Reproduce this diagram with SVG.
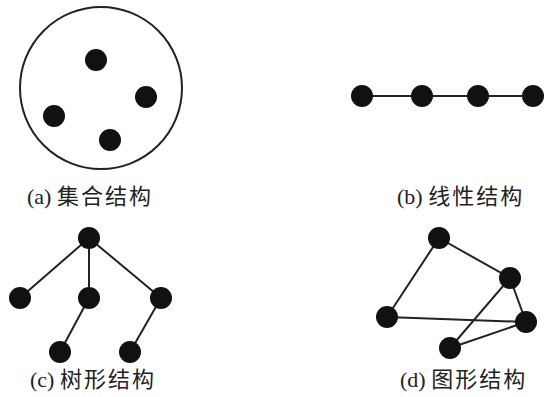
<svg xmlns="http://www.w3.org/2000/svg" width="544" height="397" viewBox="0 0 544 397">
<style>
.dot{fill:#111}
.ln{stroke:#222;stroke-width:2;fill:none}
.lbl{font-family:"Liberation Serif","Noto Sans CJK SC",serif;font-size:22px;fill:#222}
.cjk{font-family:"Noto Sans CJK SC",sans-serif;letter-spacing:2px}
</style>
<rect width="544" height="397" fill="#fff"/>
<g id="connectors">
<circle cx="101" cy="88" r="81" class="ln"/>
<line x1="362" y1="96" x2="533" y2="96" class="ln"/>
<line x1="89" y1="238" x2="20" y2="298" class="ln"/>
<line x1="89" y1="238" x2="89" y2="298" class="ln"/>
<line x1="89" y1="238" x2="161" y2="298" class="ln"/>
<line x1="89" y1="298" x2="60" y2="352" class="ln"/>
<line x1="161" y1="298" x2="130" y2="352" class="ln"/>
<line x1="439" y1="238" x2="387" y2="317" class="ln"/>
<line x1="439" y1="238" x2="510" y2="278" class="ln"/>
<line x1="510" y1="278" x2="526" y2="322" class="ln"/>
<line x1="510" y1="278" x2="450" y2="348" class="ln"/>
<line x1="387" y1="317" x2="526" y2="322" class="ln"/>
<line x1="450" y1="348" x2="526" y2="322" class="ln"/>
</g>
<g id="set">
<circle cx="96" cy="60" r="11" class="dot"/>
<circle cx="146" cy="97" r="11" class="dot"/>
<circle cx="54" cy="116" r="11" class="dot"/>
<circle cx="110" cy="140" r="11" class="dot"/>
<text x="27" y="204" class="lbl">(a) <tspan class="cjk">集合结构</tspan></text>
</g>
<g id="linear">
<circle cx="362" cy="96" r="11" class="dot"/>
<circle cx="422" cy="96" r="11" class="dot"/>
<circle cx="478" cy="96" r="11" class="dot"/>
<circle cx="533" cy="96" r="11" class="dot"/>
<text x="397" y="204" class="lbl">(b) <tspan class="cjk">线性结构</tspan></text>
</g>
<g id="tree">
<circle cx="89" cy="238" r="11" class="dot"/>
<circle cx="20" cy="298" r="11" class="dot"/>
<circle cx="89" cy="298" r="11" class="dot"/>
<circle cx="161" cy="298" r="11" class="dot"/>
<circle cx="60" cy="352" r="11" class="dot"/>
<circle cx="130" cy="352" r="11" class="dot"/>
<text x="30" y="387" class="lbl">(c) <tspan class="cjk">树形结构</tspan></text>
</g>
<g id="graph">
<circle cx="439" cy="238" r="11" class="dot"/>
<circle cx="510" cy="278" r="11" class="dot"/>
<circle cx="387" cy="317" r="11" class="dot"/>
<circle cx="526" cy="322" r="11" class="dot"/>
<circle cx="450" cy="348" r="11" class="dot"/>
<text x="400" y="387" class="lbl">(d) <tspan class="cjk">图形结构</tspan></text>
</g>
</svg>
